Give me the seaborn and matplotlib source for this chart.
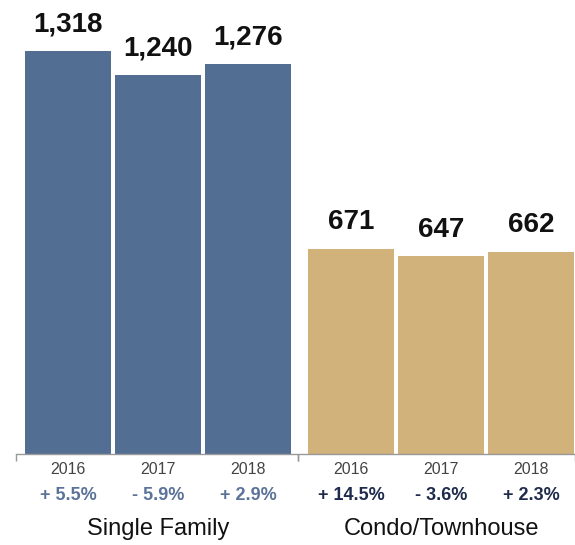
import pandas as pd
import matplotlib.pyplot as plt
import seaborn as sns
from matplotlib.transforms import blended_transform_factory

years = ["2016", "2017", "2018"]
single_family = [1318, 1240, 1276]
condo = [671, 647, 662]
single_change = ["+ 5.5%", "- 5.9%", "+ 2.9%"]
condo_change = ["+ 14.5%", "- 3.6%", "+ 2.3%"]
groups = ["Single Family", "Condo/Townhouse"]

sns.set_style("white")
plt.rcParams['font.family'] = ['Liberation Sans', 'DejaVu Sans']

W, H = 575, 545
fig = plt.figure(figsize=(W / 100, H / 100), dpi=100)

# axes placed in pixels: left, width
panels = [
    (16, 282, single_family, single_change, "#536E93", "#5B7399", -0.578),
    (298, 277, condo, condo_change, "#D0B27A", "#1E2B4C", -0.589),
]
ymax = 454 / (403 / 1318)

for (left, width, vals, changes, color, pct_color, x0), group in zip(panels, groups):
    ax = fig.add_axes([left / W, 91 / H, width / W, 454 / H])
    df = pd.DataFrame({"year": years, "value": vals})
    sns.barplot(data=df, x="year", y="value", color=color, saturation=1,
                width=0.955, linewidth=0, ax=ax)
    ax.set_xlim(x0, x0 + width / 90)
    ax.set_ylim(0, ymax)
    ax.set_xlabel("")
    ax.set_ylabel("")
    ax.set_yticks([])
    for s in ["top", "left", "right"]:
        ax.spines[s].set_visible(False)
    ax.spines["bottom"].set_color("#999999")
    ax.spines["bottom"].set_linewidth(1)
    ax.tick_params(axis="x", which="both", bottom=True)
    ax.tick_params(axis="x", which="major", length=0, pad=6,
                   labelsize=11.5, labelcolor="#444444")
    ax.set_xticks([x0, x0 + width / 90], minor=True)
    ax.tick_params(axis="x", which="minor", length=5, color="#999999", width=1)

    for i, v in enumerate(vals):
        ax.annotate(f"{v:,}", (i, v), xytext=(0, 14), textcoords="offset points",
                    ha="center", va="baseline", fontsize=20, fontweight="bold",
                    color="#111111")

    trans = blended_transform_factory(ax.transData, fig.transFigure)
    for i, c in enumerate(changes):
        ax.text(i, 1 - 495 / H, c, transform=trans, ha="center", va="center",
                fontsize=13, fontweight="bold", color=pct_color)
    ax.text(1, 1 - 529 / H, group, transform=trans, ha="center", va="center",
            fontsize=17, color="#111111")

fig.savefig("out.png", dpi=100)
